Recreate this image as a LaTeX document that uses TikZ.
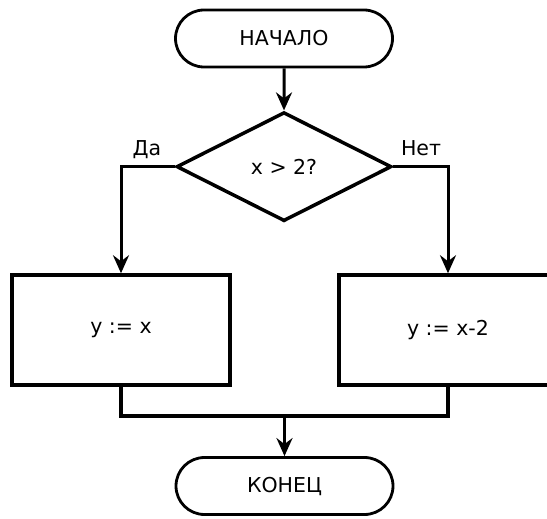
\documentclass[tikz,border=0pt]{standalone}
\usepackage{fontspec}
\setmainfont{DejaVu Sans}
\usetikzlibrary{positioning,shapes.geometric,shapes.misc,arrows.meta}

\begin{document}
\begin{tikzpicture}[
                x=1pt,y=-1pt,
                node distance=42pt,
                every node/.append style={font=\fontsize{20.5}{24}\selectfont},
                term/.style={rounded rectangle,draw,line width=2.8pt,minimum width=217pt,minimum height=57pt,inner sep=0pt},
                decision/.style={diamond,draw,line width=3.5pt,minimum width=215pt,minimum height=109pt,inner sep=0pt},
                stepbox/.style={rectangle,draw,line width=3.5pt,minimum width=218pt,minimum height=110pt},
                arr/.style={-{Stealth[length=18pt,width=16pt,inset=6pt]},line width=3pt},
                link/.style={line width=3.5pt}
            ]
                \useasboundingbox (0,0) rectangle (547,519);
                \node[term] (start) at (284,38.5) {НАЧАЛО};
                \node[decision] (cond) [below=of start] {x > 2?};
                \node[stepbox] (yes) at (121,330) {y := x};
                \node[stepbox] (no)  at (448,330) {y := x-2};
                \node[term] (stop) at (284.5,486) {КОНЕЦ};
                \coordinate (join) at (284.5,416);
                \node[anchor=base] (da)  at (147,156) {Да};
                \node[anchor=base] (net) at (421,156) {Нет};
                \draw[arr] (start) -- (cond);
                \draw[arr] (cond.west) -| (yes.north);
                \draw[arr] (cond.east) -| (no.north);
                \draw[link] (yes.south) |- (join) -| (no.south);
                \draw[arr] (join) -- (stop);
            \end{tikzpicture}
\end{document}
